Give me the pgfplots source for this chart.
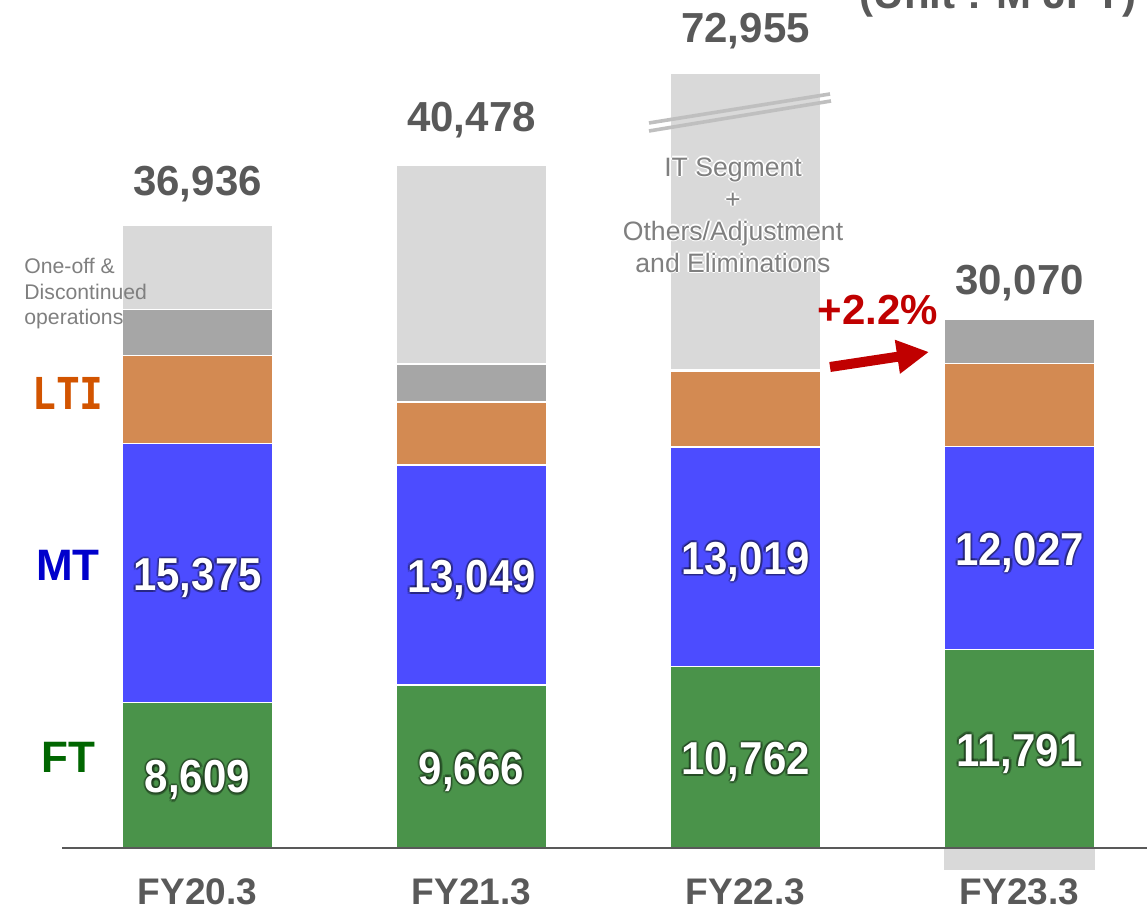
\documentclass[border=0pt]{standalone}
\usepackage{graphicx}
\usepackage{pgfplots}
\usepackage{pgfplotstable}
\pgfplotsset{compat=1.18}
\usepackage{fontspec}
\setmainfont{Liberation Sans}
\newfontfamily\ltifont{DejaVu Sans Mono}
\usetikzlibrary{arrows.meta}

\definecolor{ftc}{RGB}{74,147,74}
\definecolor{mtc}{RGB}{76,76,255}
\definecolor{ltic}{RGB}{211,138,82}
\definecolor{onec}{RGB}{166,166,166}
\definecolor{itc}{RGB}{217,217,217}
\definecolor{txtgray}{RGB}{89,89,89}
\definecolor{lblgray}{RGB}{127,127,127}
\definecolor{brkgray}{RGB}{191,191,191}
\definecolor{redc}{RGB}{192,0,0}
\definecolor{ftlab}{RGB}{0,102,0}
\definecolor{mtlab}{RGB}{0,0,204}
\definecolor{ltilab}{RGB}{210,84,0}

% segment values (M JPY); FY22.3 IT segment drawn truncated (total 72,955)
\pgfplotstableread{
x ft mt lti one it
0 8609 15375 5218 2728 5006
1 9666 13049 3736 2253 11774
2 10762 13019 4500 100 17550
3 11791 12027 4910 2642 0
}\segdata

\pgfplotsset{
  base/.style={scale only axis, width=573.5pt, height=455pt,
    xmin=-0.7208, xmax=3.4653, ymin=-3677, ymax=50286,
    hide axis, bar width=75.5pt, clip=false,
    at={(0,0)}, anchor=south west},
}
\tikzset{
  inval/.style={font=\bfseries\fontsize{21}{24}\selectfont, inner sep=0pt, yshift=-2.5pt},
  tot/.style={font=\bfseries\fontsize{21}{24}\selectfont, text=txtgray, inner sep=0pt, anchor=base},
}
\newcommand{\glowval}[3]{%
  \node[inval, text=black, text opacity=0.22, xshift=1.1pt] at (#1,#2) {\scalebox{1}[1.1]{#3}};
  \node[inval, text=black, text opacity=0.22, xshift=-1.1pt] at (#1,#2) {\scalebox{1}[1.1]{#3}};
  \node[inval, text=black, text opacity=0.22, yshift=1.1pt] at (#1,#2) {\scalebox{1}[1.1]{#3}};
  \node[inval, text=black, text opacity=0.22, yshift=-1.1pt] at (#1,#2) {\scalebox{1}[1.1]{#3}};
  \node[inval, text=black, text opacity=0.18, xshift=0.8pt, yshift=0.8pt] at (#1,#2) {\scalebox{1}[1.1]{#3}};
  \node[inval, text=black, text opacity=0.18, xshift=-0.8pt, yshift=0.8pt] at (#1,#2) {\scalebox{1}[1.1]{#3}};
  \node[inval, text=black, text opacity=0.18, xshift=0.8pt, yshift=-0.8pt] at (#1,#2) {\scalebox{1}[1.1]{#3}};
  \node[inval, text=black, text opacity=0.18, xshift=-0.8pt, yshift=-0.8pt] at (#1,#2) {\scalebox{1}[1.1]{#3}};
  \node[inval, text=white] at (#1,#2) {\scalebox{1}[1.1]{#3}};}
\newcommand{\itnote}{IT Segment\\+\\Others/Adjustment\\and Eliminations}

\begin{document}
\begin{tikzpicture}
% negative part of FY23.3 (below the axis)
\begin{axis}[base, ybar]
\addplot[fill=itc, draw=none] coordinates {(3,-1300)};
\end{axis}

\begin{axis}[base, ybar stacked,
  every axis plot/.append style={draw=white, line width=0.6pt}]
\addplot[fill=ftc] table[x=x, y=ft] {\segdata};
\addplot[fill=mtc] table[x=x, y=mt] {\segdata};
\addplot[fill=ltic] table[x=x, y=lti] {\segdata};
\addplot[fill=onec] table[x=x, y=one] {\segdata};
\addplot[fill=itc] table[x=x, y=it] {\segdata};
\end{axis}

% annotations on top
\begin{axis}[base]
% baseline
\draw[txtgray, line width=1.2pt] (-0.4945,0) -- (3.4653,0);

% break marks on FY22.3
\draw[brkgray, line width=1.8pt] (1.6478,42993) -- (2.3084,44712);
\draw[brkgray, line width=1.8pt] (1.6478,42518) -- (2.3120,44297);

% values inside bars
\glowval{0}{4304}{8,609}
\glowval{0}{16296}{15,375}
\glowval{1}{4833}{9,666}
\glowval{1}{16190}{13,049}
\glowval{2}{5381}{10,762}
\glowval{2}{17271}{13,019}
\glowval{3}{5895}{11,791}
\glowval{3}{17804}{12,027}

% totals
\node[tot] at (0,38664) {36,936};
\node[tot] at (1,42459) {40,478};
\node[tot] at (2,47737) {72,955};
\node[tot] at (3,32793) {30,070};

% category labels
\node[font=\bfseries\fontsize{18.5}{22}\selectfont, text=txtgray, inner sep=0pt, anchor=base] at (0,-3380) {FY20.3};
\node[font=\bfseries\fontsize{18.5}{22}\selectfont, text=txtgray, inner sep=0pt, anchor=base] at (1,-3380) {FY21.3};
\node[font=\bfseries\fontsize{18.5}{22}\selectfont, text=txtgray, inner sep=0pt, anchor=base] at (2,-3380) {FY22.3};
\node[font=\bfseries\fontsize{18.5}{22}\selectfont, text=txtgray, inner sep=0pt, anchor=base] at (3,-3380) {FY23.3};

% segment names
\node[font=\ltifont\bfseries\fontsize{22}{26}\selectfont, text=ltilab, inner sep=0pt] at (-0.4726,26982) {\scalebox{0.9}[1]{LTI}};
\node[font=\bfseries\fontsize{22}{26}\selectfont, text=mtlab, inner sep=0pt] at (-0.4726,16782) {MT};
\node[font=\bfseries\fontsize{22}{26}\selectfont, text=ftlab, inner sep=0pt] at (-0.4726,5396) {FT};

\node[font=\fontsize{10.6}{12.75}\selectfont, text=lblgray, inner sep=0pt, anchor=west, align=left] at (-0.6332,32852) {One-off \&\\Discontinued\\operations};

% IT segment note with white glow
\node[font=\fontsize{13.3}{16}\selectfont, text=white, inner sep=0pt, align=center, xshift=0.9pt] at (1.9544,37537) {\itnote};
\node[font=\fontsize{13.3}{16}\selectfont, text=white, inner sep=0pt, align=center, xshift=-0.9pt] at (1.9544,37537) {\itnote};
\node[font=\fontsize{13.3}{16}\selectfont, text=white, inner sep=0pt, align=center, yshift=0.9pt] at (1.9544,37537) {\itnote};
\node[font=\fontsize{13.3}{16}\selectfont, text=white, inner sep=0pt, align=center, yshift=-0.9pt] at (1.9544,37537) {\itnote};
\node[font=\fontsize{13.3}{16}\selectfont, text=lblgray, inner sep=0pt, align=center] at (1.9544,37537) {\itnote};

% growth arrow
\node[font=\bfseries\fontsize{21}{24}\selectfont, text=redc, inner sep=0pt] at (2.4836,31903) {+2.2\%};
\draw[redc, line width=5pt, -{Triangle[length=16pt,width=16pt]}] (2.3084,28523) -- (2.6697,29413);

% unit
\node[font=\bfseries\fontsize{21}{24}\selectfont, text=txtgray, inner sep=0pt, anchor=base east] at (3.4288,49753) {(Unit : M JPY)};
\end{axis}
\pgfresetboundingbox
\path[use as bounding box] (0,0) rectangle (573.5pt,455pt);
\end{tikzpicture}
\end{document}
